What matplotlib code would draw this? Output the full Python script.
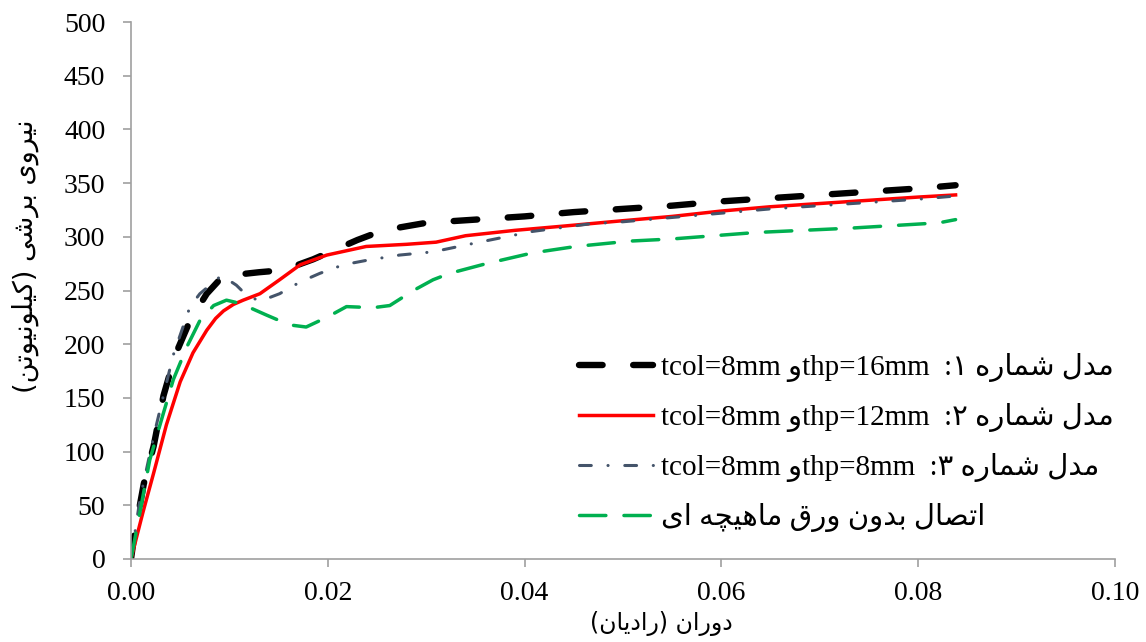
import matplotlib
matplotlib.use("Agg")
from matplotlib import pyplot as plt
from matplotlib.ticker import FormatStrFormatter

# --- data ---
x_m1 = [0, 0.0003, 0.0013, 0.0023, 0.0033, 0.0045, 0.006, 0.0077, 0.0094, 0.011, 0.013,
        0.0155, 0.0185, 0.0205, 0.023, 0.0256, 0.03, 0.035, 0.04, 0.045, 0.05, 0.055,
        0.06, 0.065, 0.07, 0.075, 0.08, 0.0838]
y_m1 = [0, 20, 70, 105, 152, 190, 222, 247, 264, 265, 267,
        269, 279, 287, 297, 306, 313, 316, 319, 323, 326, 329,
        333, 336, 339, 342, 345, 348]

x_m2 = [0, 0.0012, 0.0023, 0.0036, 0.005, 0.0063, 0.0077, 0.0086, 0.0094, 0.0104, 0.0114,
        0.0131, 0.0151, 0.0172, 0.0199, 0.0239, 0.028, 0.031, 0.034, 0.039, 0.044, 0.05,
        0.055, 0.06, 0.065, 0.07, 0.075, 0.08, 0.0838]
y_m2 = [0, 43, 80, 125, 165, 192, 213, 224, 231, 237, 241,
        247, 260, 274, 283, 291, 293, 295, 301, 306, 310, 315,
        319, 324, 328, 331, 334, 337, 339]

x_m3 = [0, 0.0009, 0.0023, 0.0035, 0.0043, 0.006, 0.007, 0.0092, 0.0107, 0.0117, 0.0131,
        0.0151, 0.0172, 0.0192, 0.0216, 0.0239, 0.0273, 0.0307, 0.0354, 0.0408, 0.0466,
        0.05, 0.055, 0.06, 0.065, 0.07, 0.075, 0.08, 0.0838]
y_m3 = [0, 55, 114, 160, 190, 235, 247, 264, 255, 246, 240,
        247, 258, 266, 274, 278, 283, 286, 295, 305, 312,
        314, 318, 322, 326, 329, 332, 335, 338]

x_m4 = [0, 0.0009, 0.0019, 0.0033, 0.0043, 0.0057, 0.007, 0.0084, 0.0097, 0.0111, 0.0138,
        0.0161, 0.0178, 0.0199, 0.0219, 0.0246, 0.0263, 0.0287, 0.0307, 0.0324, 0.0361,
        0.0408, 0.0452, 0.0507, 0.055, 0.0635, 0.073, 0.0821, 0.0838]
y_m4 = [0, 43, 92, 136, 167, 198, 222, 236, 241, 238, 227,
        218, 216, 225, 235, 234, 236, 250, 260, 266, 275,
        285, 291, 296, 298, 304, 308, 313, 316]

x_ticks = [0.00, 0.02, 0.04, 0.06, 0.08, 0.10]
y_ticks = list(range(0, 501, 50))

# --- minimal persian shaping (matplotlib has no bidi/shaping) ---
FORMS = {
    'ا': ('\uFE8D', '\uFE8E', None, None),
    'ب': ('\uFE8F', '\uFE90', '\uFE91', '\uFE92'),
    'ت': ('\uFE95', '\uFE96', '\uFE97', '\uFE98'),
    'چ': ('\uFB7A', '\uFB7B', '\uFB7C', '\uFB7D'),
    'د': ('\uFEA9', '\uFEAA', None, None),
    'ر': ('\uFEAD', '\uFEAE', None, None),
    'ش': ('\uFEB5', '\uFEB6', '\uFEB7', '\uFEB8'),
    'ص': ('\uFEB9', '\uFEBA', '\uFEBB', '\uFEBC'),
    'ق': ('\uFED5', '\uFED6', '\uFED7', '\uFED8'),
    'ک': ('\uFB8E', '\uFB8F', '\uFB90', '\uFB91'),
    'ل': ('\uFEDD', '\uFEDE', '\uFEDF', '\uFEE0'),
    'م': ('\uFEE1', '\uFEE2', '\uFEE3', '\uFEE4'),
    'ن': ('\uFEE5', '\uFEE6', '\uFEE7', '\uFEE8'),
    'ه': ('\uFEE9', '\uFEEA', '\uFEEB', '\uFEEC'),
    'و': ('\uFEED', '\uFEEE', None, None),
    'ی': ('\uFBFC', '\uFBFD', '\uFBFE', '\uFBFF'),
}
MIRROR = {'(': ')', ')': '('}


def fa(s):
    out = []
    for i, ch in enumerate(s):
        if ch not in FORMS:
            out.append(MIRROR.get(ch, ch))
            continue
        prev = s[i - 1] if i > 0 else ''
        nxt = s[i + 1] if i + 1 < len(s) else ''
        join_prev = prev in FORMS and FORMS[prev][2] is not None
        join_next = nxt in FORMS and FORMS[ch][2] is not None
        iso, fin, ini, med = FORMS[ch]
        if join_prev and join_next:
            out.append(med)
        elif join_prev:
            out.append(fin)
        elif join_next:
            out.append(ini)
        else:
            out.append(iso)
    return ''.join(reversed(out))


labels = [
    "tcol=8mm " + fa("و") + "thp=16mm  " + fa("مدل شماره ۱:"),
    "tcol=8mm " + fa("و") + "thp=12mm  " + fa("مدل شماره ۲:"),
    "tcol=8mm " + fa("و") + "thp=8mm  " + fa("مدل شماره ۳:"),
    fa("اتصال بدون ورق ماهیچه ای"),
]

plt.rcParams['font.family'] = ['Liberation Serif', 'DejaVu Sans']
plt.rcParams['lines.scale_dashes'] = False

fig = plt.figure(figsize=(11.46, 6.42), dpi=100)
ax = fig.add_axes([131 / 1146, 1 - 559 / 642, (1115 - 131) / 1146, (559 - 22) / 642])

l1, = ax.plot(x_m1, y_m1, color='black', lw=4.6, dash_capstyle='round', label=labels[0])
l1.set_dashes((17, 22))
l2, = ax.plot(x_m2, y_m2, color='#FF0000', lw=2.5, label=labels[1])
l3, = ax.plot(x_m3, y_m3, color='#44546A', lw=2.2, dash_capstyle='round', label=labels[2])
l3.set_dashes((8.5, 12, 0.1, 12))
l4, = ax.plot(x_m4, y_m4, color='#00B050', lw=2.5, dash_capstyle='round', label=labels[3])
l4.set_dashes((19, 13))

ax.set_xlim(0, 0.10)
ax.set_ylim(0, 500)
ax.set_xticks(x_ticks)
ax.set_yticks(y_ticks)
ax.xaxis.set_major_formatter(FormatStrFormatter('%.2f'))
for s in ['top', 'right']:
    ax.spines[s].set_visible(False)
for s in ['left', 'bottom']:
    ax.spines[s].set_color('#A0A0A0')
    ax.spines[s].set_linewidth(1.2)
ax.tick_params(direction='out', length=5.5, width=1.2, color='#A0A0A0',
               labelsize=20, labelcolor='black')
ax.tick_params(axis='x', pad=10)
ax.tick_params(axis='y', pad=13)

fig.text(661 / 1146, 1 - 623 / 642, fa("دوران (رادیان)"), ha='center', va='center',
         fontsize=17, family='DejaVu Sans')
fig.text(25 / 1146, 1 - 256 / 642, fa("نیروی برشی (کیلونیوتن)"), ha='center', va='center',
         rotation=90, fontsize=19.5, family='DejaVu Sans')

ax.legend(loc='upper left', bbox_to_anchor=(579 / 1146, 1 - 353 / 642),
          bbox_transform=fig.transFigure, frameon=False, fontsize=21,
          handlelength=2.55, handletextpad=0.26, labelspacing=0.72,
          borderpad=0, borderaxespad=0)

fig.savefig('out.png', dpi=100)
